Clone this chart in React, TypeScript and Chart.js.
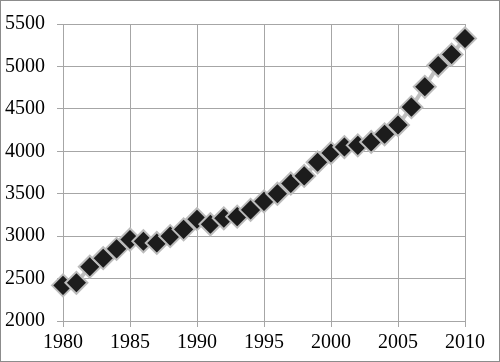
import React, { useEffect, useRef } from "react";
import { Chart, registerables } from "chart.js";

Chart.register(...registerables);
Chart.defaults.font.family = "Liberation Serif";

const years = [1980, 1981, 1982, 1983, 1984, 1985, 1986, 1987, 1988, 1989, 1990, 1991, 1992, 1993, 1994, 1995, 1996, 1997, 1998, 1999, 2000, 2001, 2002, 2003, 2004, 2005, 2006, 2007, 2008, 2009, 2010];
const values = [2420, 2450, 2640, 2740, 2850, 2960, 2940, 2920, 3000, 3080, 3200, 3140, 3210, 3230, 3310, 3410, 3500, 3620, 3710, 3870, 3980, 4050, 4070, 4110, 4200, 4310, 4520, 4760, 5010, 5140, 5330];
const xMin = 1980;
const xMax = 2010;
const xStep = 5;
const yMin = 2000;
const yMax = 5500;
const yStep = 500;

const framePlugin = {
  id: "frame",
  afterDraw(chart: any) {
    const ctx = chart.ctx;
    ctx.save();
    ctx.strokeStyle = "#8c8c8c";
    ctx.lineWidth = 1;
    ctx.strokeRect(0.5, 0.5, chart.width - 1, chart.height - 1);
    ctx.restore();
  },
};

export default function App() {
  const ref = useRef<HTMLCanvasElement>(null);
  useEffect(() => {
    document.body.style.margin = "0";
    const canvas = ref.current!;
    const gridColor = "#a6a6a6";
    const font = { family: "Liberation Serif", size: 20 };
    const chart = new Chart(canvas, {
      type: "line",
      data: {
        datasets: [
          {
            data: years.map((x, i) => ({ x, y: values[i] })),
            borderColor: "#bfbfbf",
            borderWidth: 4,
            pointStyle: "rectRot",
            pointRadius: 11,
            pointBackgroundColor: "#1c1c1c",
            pointBorderColor: "#bcbcbc",
            pointBorderWidth: 2,
            clip: false as any,
          },
        ],
      },
      options: {
        animation: false,
        responsive: false,
        maintainAspectRatio: false,
        layout: { padding: { left: 0, right: 35, top: 12, bottom: 0 } },
        plugins: { legend: { display: false }, tooltip: { enabled: false } },
        scales: {
          x: {
            type: "linear",
            min: xMin,
            max: xMax,
            ticks: {
              stepSize: xStep,
              color: "#000",
              font,
              padding: 4,
              maxRotation: 0,
              callback: (v: any) => String(v),
            },
            grid: { color: gridColor, tickLength: 6, drawTicks: true },
            border: { color: gridColor },
            afterFit: (s: any) => {
              s.height = 362 - 321;
            },
          },
          y: {
            min: yMin,
            max: yMax,
            ticks: {
              stepSize: yStep,
              color: "#000",
              font,
              padding: 12,
              callback: (v: any) => String(v),
            },
            grid: { color: gridColor, tickLength: 6, drawTicks: true },
            border: { color: gridColor },
            afterFit: (s: any) => {
              s.width = 63;
            },
          },
        },
      },
      plugins: [framePlugin],
    });
    return () => chart.destroy();
  }, []);
  return <canvas ref={ref} width={500} height={362} style={{ display: "block" }} />;
}
